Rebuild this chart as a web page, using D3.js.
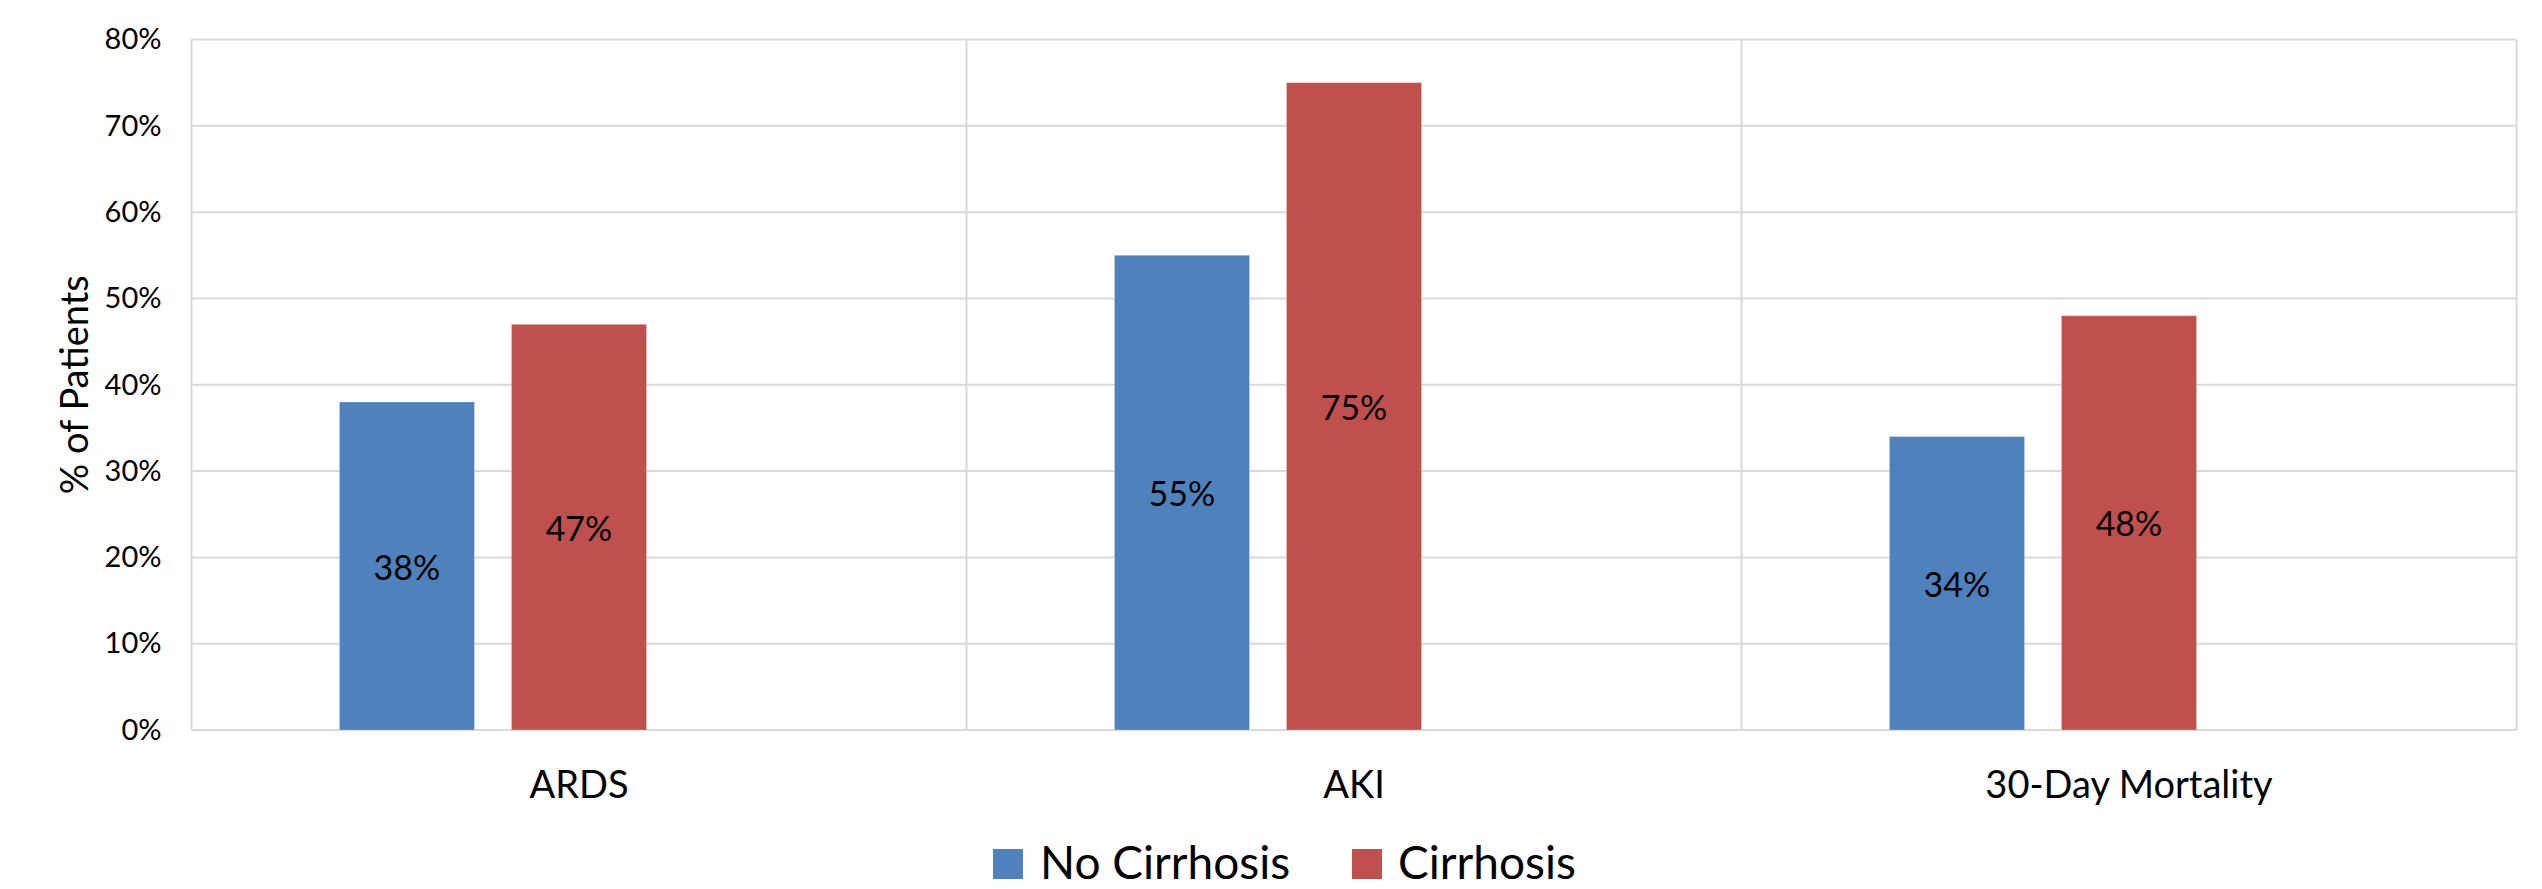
<!DOCTYPE html>
<html>
<head>
<meta charset="utf-8">
<script src="https://cdn.jsdelivr.net/npm/d3@7"></script>
<style>
  html, body { margin: 0; padding: 0; background: #fff; }
  svg { display: block; }
  text { font-family: Lato, "Open Sans", sans-serif; fill: #000; }
</style>
</head>
<body>
<svg id="chart" width="2542" height="889"></svg>
<script>
// Outcome categories and the share of patients for each group (percent)
const categories = ["ARDS", "AKI", "30-Day Mortality"];
const seriesNames = ["No Cirrhosis", "Cirrhosis"];
const noCirrhosis = [38, 55, 34];
const cirrhosis = [47, 75, 48];
const yTicks = [0, 10, 20, 30, 40, 50, 60, 70, 80];
const colors = ["#4F81BD", "#C0504D"];

const seriesValues = [noCirrhosis, cirrhosis];

const svg = d3.select("#chart");
const margin = { left: 191.5, right: 2516.5, top: 39.5, bottom: 730 };

const x0 = d3.scaleBand()
  .domain(categories)
  .range([margin.left, margin.right])
  .paddingInner(0)
  .paddingOuter(0);

// Each cluster reserves three slots; the two series fill the first two
const x1 = d3.scaleBand()
  .domain([0, 1, 2])
  .range([0, x0.bandwidth()])
  .paddingInner(0.215)
  .paddingOuter(0.86);

const y = d3.scaleLinear()
  .domain([0, 80])
  .range([margin.bottom, margin.top]);

const gridColor = "#D9D9D9";

// Horizontal gridlines
svg.append("g")
  .selectAll("line")
  .data(yTicks)
  .join("line")
  .attr("x1", margin.left)
  .attr("x2", margin.right)
  .attr("y1", d => y(d))
  .attr("y2", d => y(d))
  .attr("stroke", gridColor)
  .attr("stroke-width", 2);

// Vertical category separators and plot frame edges
const boundaries = categories.map(c => x0(c)).concat([margin.right]);
svg.append("g")
  .selectAll("line")
  .data(boundaries)
  .join("line")
  .attr("x1", d => d)
  .attr("x2", d => d)
  .attr("y1", margin.top)
  .attr("y2", margin.bottom)
  .attr("stroke", gridColor)
  .attr("stroke-width", 2);

// Y axis labels
const yAxis = d3.axisLeft(y)
  .tickValues(yTicks)
  .tickFormat(d => d + "%")
  .tickSize(0)
  .tickPadding(30);

const yAxisG = svg.append("g")
  .attr("transform", `translate(${margin.left},0)`)
  .call(yAxis);
yAxisG.select(".domain").remove();
yAxisG.selectAll("text")
  .style("font-family", "Lato, sans-serif")
  .style("font-size", "29px")
  .attr("fill", "#000");

// Bars
const groups = svg.append("g")
  .selectAll("g")
  .data(categories)
  .join("g")
  .attr("transform", c => `translate(${x0(c)},0)`);

groups.selectAll("rect")
  .data((c, i) => seriesValues.map((vals, s) => ({ s, v: vals[i] })))
  .join("rect")
  .attr("x", d => x1(d.s))
  .attr("width", x1.bandwidth())
  .attr("y", d => y(d.v))
  .attr("height", d => y(0) - y(d.v))
  .attr("fill", d => colors[d.s])
  .attr("stroke", "rgba(255,255,255,0.25)")
  .attr("stroke-width", 1);

// Data labels centred inside bars
groups.selectAll("text.val")
  .data((c, i) => seriesValues.map((vals, s) => ({ s, v: vals[i] })))
  .join("text")
  .attr("class", "val")
  .attr("x", d => x1(d.s) + x1.bandwidth() / 2)
  .attr("y", d => (y(d.v) + y(0)) / 2)
  .attr("text-anchor", "middle")
  .attr("dominant-baseline", "central")
  .style("font-size", "34px")
  .text(d => d.v + "%");

// Category labels
const xAxis = d3.axisBottom(x0).tickSize(0).tickPadding(0);
const xAxisG = svg.append("g")
  .attr("transform", `translate(0,${margin.bottom})`)
  .call(xAxis);
xAxisG.select(".domain").remove();
xAxisG.selectAll("text")
  .attr("dy", null)
  .attr("y", 68)
  .style("font-family", "Lato, sans-serif")
  .style("font-size", "38px")
  .attr("fill", "#000");

// Y axis title
svg.append("text")
  .attr("transform", `translate(88,${(margin.top + margin.bottom) / 2}) rotate(-90)`)
  .attr("text-anchor", "middle")
  .style("font-size", "38px")
  .text("% of Patients");

// Legend
const legendItems = [
  { name: seriesNames[0], color: colors[0], sx: 993, tx: 1040 },
  { name: seriesNames[1], color: colors[1], sx: 1352, tx: 1398 }
];
const legend = svg.append("g");
legend.selectAll("rect")
  .data(legendItems)
  .join("rect")
  .attr("x", d => d.sx)
  .attr("y", 849)
  .attr("width", 30)
  .attr("height", 30)
  .attr("fill", d => d.color);
legend.selectAll("text")
  .data(legendItems)
  .join("text")
  .attr("x", d => d.tx)
  .attr("y", 879)
  .style("font-size", "46px")
  .text(d => d.name);
</script>
</body>
</html>
